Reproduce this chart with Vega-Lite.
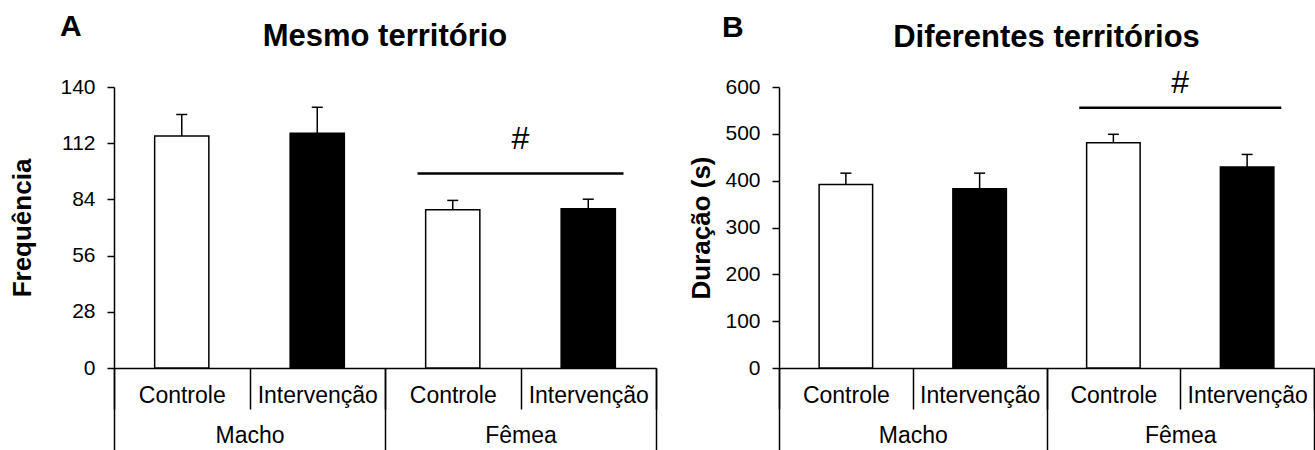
{
  "$schema": "https://vega.github.io/schema/vega-lite/v6.json",
  "background": "white",
  "padding": {"left": 9, "top": 12, "right": 0, "bottom": 0},
  "config": {
    "view": {"stroke": null},
    "font": "Liberation Sans",
    "axis": {"grid": false, "domainColor": "black", "tickColor": "black", "labelColor": "black", "titleColor": "black", "domainWidth": 1.5, "tickWidth": 1.5, "labelFont": "Liberation Sans", "titleFont": "Liberation Sans"},
    "title": {"font": "Liberation Sans", "color": "black"},
    "tick": {"opacity": 1}
  },
  "datasets": {
    "mesmo": [
      {"grupo": "Macho Controle", "tratamento": "Controle", "media": 115.6, "superior": 126.3},
      {"grupo": "Macho Intervenção", "tratamento": "Intervenção", "media": 116.9, "superior": 129.9},
      {"grupo": "Fêmea Controle", "tratamento": "Controle", "media": 78.9, "superior": 83.5},
      {"grupo": "Fêmea Intervenção", "tratamento": "Intervenção", "media": 79.4, "superior": 84.1}
    ],
    "diferentes": [
      {"grupo": "Macho Controle", "tratamento": "Controle", "media": 392, "superior": 416},
      {"grupo": "Macho Intervenção", "tratamento": "Intervenção", "media": 383, "superior": 416},
      {"grupo": "Fêmea Controle", "tratamento": "Controle", "media": 481, "superior": 499},
      {"grupo": "Fêmea Intervenção", "tratamento": "Intervenção", "media": 429, "superior": 456}
    ],
    "anotacao": [{"sexo": "Fêmea", "texto": "#"}]
  },
  "hconcat": [
    {
      "title": {"text": "A", "anchor": "start", "frame": "bounds", "fontSize": 30, "fontWeight": "bold", "dx": 50, "offset": -21},
      "vconcat": [
        {
          "width": 542,
          "height": 281,
          "title": {"text": "Mesmo território", "fontSize": 31, "fontWeight": "bold", "anchor": "middle", "frame": "group", "offset": 23},
          "layer": [
            {
              "data": {"name": "mesmo"},
              "encoding": {
                "x": {"field": "grupo", "type": "nominal", "sort": ["Macho Controle", "Macho Intervenção", "Fêmea Controle", "Fêmea Intervenção"],
                  "scale": {"paddingInner": 0, "paddingOuter": 0},
                  "axis": {"orient": "bottom", "title": null, "labelAngle": 0, "labelExpr": "split(datum.label, ' ')[1]", "tickBand": "extent", "tickSize": 41, "labelPadding": -25, "labelFontSize": 23, "labelOverlap": false, "labelBaseline": "top"}}
              },
              "layer": [
                {
                  "mark": {"type": "bar", "width": {"band": 0.4}, "stroke": "black", "strokeWidth": 1.5},
                  "encoding": {
                    "y": {"field": "media", "type": "quantitative", "scale": {"domain": [0, 140], "nice": false},
                      "axis": {"values": [0, 28, 56, 84, 112, 140], "tickSize": 7, "labelPadding": 12, "labelFontSize": 21, "title": "Frequência", "titleFontSize": 26, "titleFontWeight": "bold", "titlePadding": 24}},
                    "fill": {"field": "tratamento", "type": "nominal", "scale": {"domain": ["Controle", "Intervenção"], "range": ["white", "black"]}, "legend": null}
                  }
                },
                {
                  "mark": {"type": "rule", "color": "black", "strokeWidth": 1.5},
                  "encoding": {"y": {"field": "media", "type": "quantitative"}, "y2": {"field": "superior"}}
                },
                {
                  "mark": {"type": "tick", "color": "black", "thickness": 1.5, "size": 11},
                  "encoding": {"y": {"field": "superior", "type": "quantitative"}}
                }
              ]
            },
            {
              "data": {"name": "anotacao"},
              "encoding": {
                "x": {"field": "sexo", "type": "nominal",
                  "scale": {"domain": ["Macho", "Fêmea"], "paddingInner": 0, "paddingOuter": 0},
                  "axis": {"orient": "bottom", "title": null, "labelAngle": 0, "tickBand": "extent", "tickSize": 83, "domain": false, "labelPadding": -27, "labelFontSize": 23, "labelOverlap": false, "labelBaseline": "top"}}
              },
              "layer": [
                {
                  "mark": {"type": "tick", "color": "black", "thickness": 2.5, "size": 206},
                  "encoding": {"y": {"datum": 96.9, "type": "quantitative",
                    "axis": {"values": [0, 28, 56, 84, 112, 140], "tickSize": 7, "labelPadding": 12, "labelFontSize": 21, "title": "Frequência", "titleFontSize": 26, "titleFontWeight": "bold", "titlePadding": 24}}}
                },
                {
                  "mark": {"type": "text", "fontSize": 32, "color": "black", "baseline": "middle", "align": "center"},
                  "encoding": {"y": {"datum": 114, "type": "quantitative"}, "text": {"field": "texto"}}
                }
              ]
            }
          ],
          "resolve": {"scale": {"x": "independent"}, "axis": {"x": "independent"}}
        }
      ]
    },
    {
      "title": {"text": "B", "anchor": "start", "frame": "bounds", "fontSize": 30, "fontWeight": "bold", "dx": 33, "offset": -21},
      "vconcat": [
        {
          "width": 535,
          "height": 281,
          "title": {"text": "Diferentes territórios", "fontSize": 31, "fontWeight": "bold", "anchor": "middle", "frame": "group", "offset": 13},
          "layer": [
            {
              "data": {"name": "diferentes"},
              "encoding": {
                "x": {"field": "grupo", "type": "nominal", "sort": ["Macho Controle", "Macho Intervenção", "Fêmea Controle", "Fêmea Intervenção"],
                  "scale": {"paddingInner": 0, "paddingOuter": 0},
                  "axis": {"orient": "bottom", "title": null, "labelAngle": 0, "labelExpr": "split(datum.label, ' ')[1]", "tickBand": "extent", "tickSize": 41, "labelPadding": -25, "labelFontSize": 23, "labelOverlap": false, "labelBaseline": "top"}}
              },
              "layer": [
                {
                  "mark": {"type": "bar", "width": {"band": 0.4}, "stroke": "black", "strokeWidth": 1.5},
                  "encoding": {
                    "y": {"field": "media", "type": "quantitative", "scale": {"domain": [0, 600], "nice": false},
                      "axis": {"values": [0, 100, 200, 300, 400, 500, 600], "tickSize": 7, "labelPadding": 12, "labelFontSize": 21, "title": "Duração (s)", "titleFontSize": 26, "titleFontWeight": "bold", "titlePadding": 10}},
                    "fill": {"field": "tratamento", "type": "nominal", "scale": {"domain": ["Controle", "Intervenção"], "range": ["white", "black"]}, "legend": null}
                  }
                },
                {
                  "mark": {"type": "rule", "color": "black", "strokeWidth": 1.5},
                  "encoding": {"y": {"field": "media", "type": "quantitative"}, "y2": {"field": "superior"}}
                },
                {
                  "mark": {"type": "tick", "color": "black", "thickness": 1.5, "size": 11},
                  "encoding": {"y": {"field": "superior", "type": "quantitative"}}
                }
              ]
            },
            {
              "data": {"name": "anotacao"},
              "encoding": {
                "x": {"field": "sexo", "type": "nominal",
                  "scale": {"domain": ["Macho", "Fêmea"], "paddingInner": 0, "paddingOuter": 0},
                  "axis": {"orient": "bottom", "title": null, "labelAngle": 0, "tickBand": "extent", "tickSize": 83, "domain": false, "labelPadding": -27, "labelFontSize": 23, "labelOverlap": false, "labelBaseline": "top"}}
              },
              "layer": [
                {
                  "mark": {"type": "tick", "color": "black", "thickness": 2.5, "size": 202},
                  "encoding": {"y": {"datum": 555.5, "type": "quantitative",
                    "axis": {"values": [0, 100, 200, 300, 400, 500, 600], "tickSize": 7, "labelPadding": 12, "labelFontSize": 21, "title": "Duração (s)", "titleFontSize": 26, "titleFontWeight": "bold", "titlePadding": 10}}}
                },
                {
                  "mark": {"type": "text", "fontSize": 32, "color": "black", "baseline": "middle", "align": "center"},
                  "encoding": {"y": {"datum": 609, "type": "quantitative"}, "text": {"field": "texto"}}
                }
              ]
            }
          ],
          "resolve": {"scale": {"x": "independent"}, "axis": {"x": "independent"}}
        }
      ]
    }
  ],
  "spacing": 31
}
